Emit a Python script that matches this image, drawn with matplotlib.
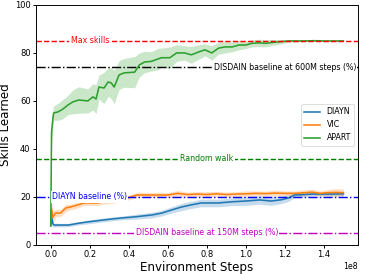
"""Skills learned vs environment steps (DIAYN / VIC / APART)."""
import numpy as np
import matplotlib

matplotlib.use("Agg")
import matplotlib.pyplot as plt

# ---- data (steps in units of 1e8) ----
apart_x = [0.0, 0.004, 0.01, 0.015, 0.036, 0.06, 0.088, 0.113, 0.144, 0.19, 0.216, 0.232,
           0.247, 0.273, 0.294, 0.31, 0.325, 0.35, 0.376, 0.43, 0.454, 0.48, 0.516, 0.55,
           0.567, 0.61, 0.645, 0.686, 0.72, 0.758, 0.79, 0.825, 0.86, 0.893, 0.93, 0.964,
           1.0, 1.03, 1.07, 1.1, 1.14, 1.17, 1.22, 1.26, 1.3, 1.35, 1.4, 1.45, 1.5]
apart_mean = [8, 47, 52, 55, 55.4, 56.5, 58.3, 59.6, 60.4, 60, 61.7, 60.8,
              65.8, 65.4, 67.9, 67.5, 65.8, 70.8, 71.7, 72, 75, 76.2, 76.5, 77.5,
              78, 78, 80, 80, 79.2, 80.4, 81.3, 80, 82, 82.5, 82.5, 83.3,
              83.3, 84, 84.2, 84, 84.4, 84.6, 85, 85, 85, 85.1, 85, 85, 85]
apart_std = [1, 6, 4, 3, 3.5, 4, 4, 5, 5.5, 5, 5.5, 6,
             5, 6.5, 6, 6.5, 7, 6, 6, 6.5, 5, 4.5, 4, 4.5,
             4, 4.5, 3.5, 3, 3.5, 3, 2.5, 3, 2.5, 2.5, 2, 2,
             1.5, 1.5, 1.5, 1.5, 1.2, 1, 0.6, 0.4, 0.3, 0.3, 0.3, 0.3, 0.3]

vic_x = [0.0, 0.004, 0.01, 0.018, 0.026, 0.05, 0.077, 0.1, 0.14, 0.17, 0.21, 0.24, 0.27,
         0.31, 0.35, 0.39, 0.44, 0.52, 0.6, 0.65, 0.7, 0.75, 0.8, 0.85, 0.9, 0.95, 1.0,
         1.05, 1.1, 1.15, 1.2, 1.25, 1.29, 1.34, 1.38, 1.42, 1.46, 1.5]
vic_mean = [10, 15, 11.5, 12.5, 13.3, 13.3, 15.4, 15.8, 16.7, 17.5, 17.5, 17.5, 18,
            18.3, 18.8, 19.5, 20.8, 20.8, 20.8, 21.5, 21, 21.2, 21, 21.3, 21, 21.2, 21.3,
            21.5, 21.4, 21.6, 21.5, 21.5, 21.7, 22, 21.5, 21.8, 21.9, 21.8]
vic_std = [2, 3, 2.5, 2, 1.5, 1.5, 1.5, 1.2, 1.2, 1, 1, 1, 1,
           1, 1, 1, 1, 1, 1, 1.2, 1, 1, 1.2, 1, 1, 1, 1.2,
           1, 1, 1.2, 1, 1, 1.2, 1.2, 1, 1.3, 1.6, 1.5]

diayn_x = [0.0, 0.004, 0.01, 0.015, 0.05, 0.09, 0.14, 0.19, 0.25, 0.31, 0.37, 0.43, 0.52,
           0.57, 0.62, 0.67, 0.72, 0.77, 0.86, 0.93, 1.0, 1.07, 1.13, 1.18, 1.22, 1.25,
           1.3, 1.34, 1.44, 1.5]
diayn_mean = [8, 12, 9, 8.3, 8.3, 8.3, 9, 9.6, 10.2, 10.8, 11.3, 11.7, 12.5,
              13.3, 14.6, 15.8, 16.7, 17.5, 17.5, 18, 18.3, 18.75, 18.3, 18.8, 19.6, 20.8,
              21, 21.2, 21.2, 21.3]
diayn_std = [1, 3, 1.5, 0.8, 0.7, 0.7, 0.7, 0.8, 0.8, 0.8, 0.8, 1, 1.2,
             1.2, 1.3, 1.5, 1.5, 1.6, 1.6, 1.6, 1.8, 1.8, 1.8, 1.6, 1.4, 1,
             0.8, 0.8, 0.8, 0.8]

# reference lines: (y, label, colour, style, label x position)
baselines = [
    (85, "Max skills", "r", "--", 0.2),
    (74, "DISDAIN baseline at 600M steps (%)", "k", "-.", 1.2),
    (36, "Random walk", "g", "--", 0.8),
    (20, "DIAYN baseline (%)", "b", "-.", 0.2),
    (5, "DISDAIN baseline at 150M steps (%)", "m", "-.", 0.8),
]

DPI = 57
fig, ax = plt.subplots(figsize=(365 / DPI, 274 / DPI), dpi=DPI)

series = [("DIAYN", diayn_x, diayn_mean, diayn_std, "C0"),
          ("VIC", vic_x, vic_mean, vic_std, "C1"),
          ("APART", apart_x, apart_mean, apart_std, "C2")]
for name, xs, m, s, c in series:
    xs = np.asarray(xs) * 1e8
    m = np.asarray(m, dtype=float); s = np.asarray(s, dtype=float)
    ax.plot(xs, m, color=c, lw=2, label=name)
    ax.fill_between(xs, m - s, m + s, color=c, alpha=0.25, lw=0)

for y, txt, c, ls, xt in baselines:
    ax.axhline(y, color=c, ls=ls, lw=1.8)
    ax.text(xt * 1e8, y, txt, color=c, ha="center", va="center", zorder=5,
            fontsize=10,
            bbox=dict(facecolor="white", edgecolor="none", pad=1.5))

ax.set_ylim(0, 100)
ax.tick_params(labelsize=10.5, width=1.2)
for sp in ax.spines.values():
    sp.set_linewidth(1.2)
ax.set_xlabel("Environment Steps", fontsize=15, labelpad=2)
ax.set_ylabel("Skills Learned", fontsize=15, labelpad=3)
ax.legend(loc="center right", fontsize=10)
fig.subplots_adjust(left=0.099, right=0.981, top=0.982, bottom=0.106)
fig.savefig("out.png", dpi=DPI)
